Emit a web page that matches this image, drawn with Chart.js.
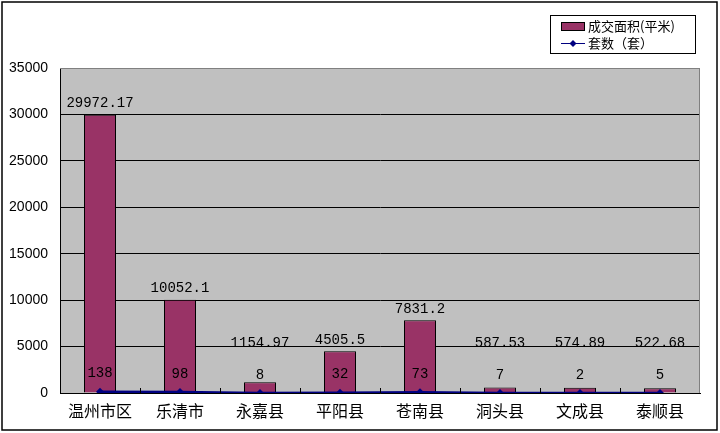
<!DOCTYPE html>
<html>
<head>
<meta charset="utf-8">
<script src="https://cdn.jsdelivr.net/npm/chart.js@4.4.0/dist/chart.umd.min.js"></script>
<style>
  html, body { margin: 0; padding: 0; background: #fff; }
  canvas { display: block; }
</style>
</head>
<body>
<canvas id="myChart" width="720" height="433"></canvas>
<script>
// data
const categories = ['温州市区', '乐清市', '永嘉县', '平阳县', '苍南县', '洞头县', '文成县', '泰顺县'];
const areaValues = [29972.17, 10052.1, 1154.97, 4505.5, 7831.2, 587.53, 574.89, 522.68];
const unitValues = [138, 98, 8, 32, 73, 7, 2, 5];
const areaLabel = '成交面积(平米)';
const unitLabel = '套数（套）';
const yMin = 0, yMax = 35000, yStep = 5000;

const BAR_COLOR = '#993366';
const LINE_COLOR = '#000080';
const MONO = '"Liberation Mono", "DejaVu Sans Mono", monospace';
const CJK = '"Noto Sans CJK SC", sans-serif';

// background, plot frame, inside ticks, outer border
const framePlugin = {
    id: 'frame',
    beforeDraw(chart) {
        const c = chart.ctx;
        const a = chart.chartArea;
        c.save();
        c.fillStyle = '#fff';
        c.fillRect(0, 0, chart.width, chart.height);
        c.fillStyle = '#c0c0c0';
        c.fillRect(a.left, a.top, a.right - a.left, a.bottom - a.top);
        c.restore();
    },
    afterDatasetsDraw(chart) {
        const c = chart.ctx;
        const a = chart.chartArea;
        const x = chart.scales.x;
        c.save();
        // gray top/right frame
        c.strokeStyle = '#808080';
        c.lineWidth = 1;
        c.beginPath();
        c.moveTo(a.left, a.top + 0.5);
        c.lineTo(a.right - 0.5, a.top + 0.5);
        c.lineTo(a.right - 0.5, a.bottom);
        c.stroke();
        // small inside ticks between categories
        c.strokeStyle = '#000';
        c.beginPath();
        for (let i = 0; i < categories.length - 1; i++) {
            const px = Math.round((x.getPixelForValue(i) + x.getPixelForValue(i + 1)) / 2) + 0.5;
            c.moveTo(px, a.bottom - 5);
            c.lineTo(px, a.bottom);
        }
        c.stroke();
        c.restore();
    },
    afterDraw(chart) {
        const c = chart.ctx;
        c.save();
        c.strokeStyle = '#000';
        c.lineWidth = 1.5;
        c.strokeRect(2, 2, chart.width - 5, chart.height - 5);
        c.restore();
    }
};

// value labels above bars and line points
const labelPlugin = {
    id: 'valueLabels',
    afterDatasetsDraw(chart) {
        const c = chart.ctx;
        const zeroY = chart.scales.y.getPixelForValue(0);
        c.save();
        c.fillStyle = '#000';
        c.font = '14px ' + MONO;
        c.textAlign = 'center';
        c.textBaseline = 'middle';
        chart.data.datasets.forEach((ds, di) => {
            const meta = chart.getDatasetMeta(di);
            meta.data.forEach((el, i) => {
                let y;
                if (ds.type === 'bar') {
                    y = Math.min(el.y - 11, zeroY - 50);
                } else {
                    y = el.y - 18;
                }
                c.fillText(String(ds.data[i]), el.x, y);
            });
        });
        c.restore();
    }
};

// boxed legend at top right
const legendPlugin = {
    id: 'boxLegend',
    afterDraw(chart) {
        const c = chart.ctx;
        c.save();
        c.fillStyle = '#fff';
        c.fillRect(550, 15, 145, 38);
        c.strokeStyle = '#000';
        c.lineWidth = 1;
        c.strokeRect(550.5, 15.5, 145, 38);
        // bar entry
        c.fillStyle = BAR_COLOR;
        c.fillRect(561, 22, 23, 8);
        c.strokeRect(561.5, 22.5, 23, 8);
        // line entry
        c.strokeStyle = LINE_COLOR;
        c.lineWidth = 1;
        c.beginPath();
        c.moveTo(561, 43.5);
        c.lineTo(585, 43.5);
        c.stroke();
        c.fillStyle = LINE_COLOR;
        c.beginPath();
        c.moveTo(573, 40);
        c.lineTo(576.5, 43.5);
        c.lineTo(573, 47);
        c.lineTo(569.5, 43.5);
        c.closePath();
        c.fill();
        c.fillStyle = '#000';
        c.font = '13px ' + CJK;
        c.textAlign = 'left';
        c.textBaseline = 'middle';
        c.fillText(areaLabel, 588, 26);
        c.fillText(unitLabel, 588, 43);
        c.restore();
    }
};

const ctx = document.getElementById('myChart').getContext('2d');
const myChart = new Chart(ctx, {
    data: {
        labels: categories,
        datasets: [{
            type: 'line',
            label: unitLabel,
            data: unitValues,
            order: 0,
            borderColor: LINE_COLOR,
            backgroundColor: LINE_COLOR,
            borderWidth: 2.5,
            pointStyle: 'rectRot',
            pointRadius: 4,
            pointBorderWidth: 0,
            tension: 0
        }, {
            type: 'bar',
            label: areaLabel,
            data: areaValues,
            order: 1,
            backgroundColor: BAR_COLOR,
            borderColor: '#000',
            borderWidth: 1,
            categoryPercentage: 1,
            barPercentage: 0.4
        }]
    },
    options: {
        responsive: false,
        devicePixelRatio: 1,
        animation: false,
        layout: { padding: { top: 68, right: 20, left: 0, bottom: 0 } },
        plugins: {
            legend: { display: false },
            tooltip: { enabled: false }
        },
        scales: {
            x: {
                offset: true,
                grid: { display: false, drawTicks: false },
                border: { display: true, color: '#000', width: 1 },
                ticks: {
                    color: '#000',
                    padding: 8,
                    maxRotation: 0,
                    font: { family: CJK, size: 16 }
                },
                afterFit(scale) { scale.height = 40; }
            },
            y: {
                min: yMin,
                max: yMax,
                grid: {
                    drawTicks: false,
                    color: (c) => (c.tick && c.tick.value === yMax) ? '#808080' : '#000'
                },
                border: { display: true, color: '#000', width: 1 },
                ticks: {
                    stepSize: yStep,
                    color: '#000',
                    padding: 12,
                    font: { family: '"Liberation Sans", Arial, sans-serif', size: 14 },
                    callback: (v) => String(v)
                },
                afterFit(scale) { scale.width = 60; }
            }
        }
    },
    plugins: [framePlugin, labelPlugin, legendPlugin]
});
</script>
</body>
</html>
